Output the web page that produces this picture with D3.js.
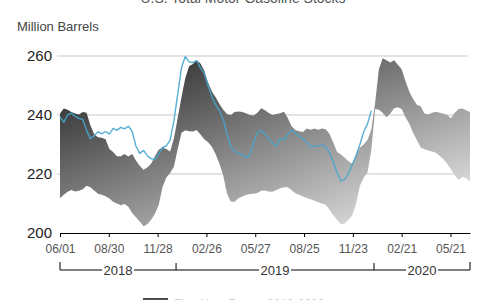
<!DOCTYPE html>
<html><head><meta charset="utf-8">
<script src="https://cdn.jsdelivr.net/npm/d3@7"></script>
<style>body{margin:0;background:#fff}svg{display:block}</style>
</head><body><svg id="c" width="500" height="300"></svg>
<script>
const title = "U.S. Total Motor Gasoline Stocks";
const unitLabel = "Million Barrels";
const startDate = "2018-06-01";
const endDate = "2020-06-26";
// five-year range, weekly from 2018-06-01
const upper = [240.5,242.2,241.8,241,240.5,240.2,241,240.8,236.5,233.5,232.5,232.3,231.8,228.5,227.5,226,226,226.8,225.9,226.8,
  224.6,222.8,221.4,222.2,223.5,226,228.2,229,228.5,227.6,232,239,246,252.5,256.5,257.3,258.6,257.5,255,251,
  248,246,243.7,241.8,240.3,240,241,241.2,241,240.6,240,239.8,240.8,242.3,241.6,240.7,240,240.3,240.6,241.1,
  239,236.2,234.9,234.5,234.2,235.4,235,235.4,235,235.4,235.2,233.6,230.6,227.5,226.6,225.5,224.3,223.5,226.5,229,
  230,231.5,235,244,255.5,259.2,258.6,257.8,258.6,257,255.5,251.5,248,245.4,243.5,243,240.5,240.2,240.8,241.1,
  240.8,240.4,240,238.9,240.8,242,242.2,241.6,241];
const lower = [211.8,213,214,214.6,214.1,214.3,214.8,216,215.5,214.4,213.3,213,212.5,211.7,210.6,210,209.4,209.8,208.9,206.8,
  205.3,203.9,202.3,203,204.5,206.5,209.5,215.5,218.8,220.3,222.5,228.5,234,234.8,234.5,234.4,234.9,233.4,231.8,230.8,
  229.2,226.7,223.5,219.5,213.3,210.6,210.6,211.8,212.4,212.9,213.2,213.3,213.6,214.3,214.4,214.1,214,214.6,215.2,215.5,
  215.5,214.5,213.5,213,212.4,211.9,211.4,210.9,210.4,210,209.6,207.8,206,204.4,203,203.2,204.5,206,210,216,
  218.7,220.5,228,242,241.8,240.8,239.2,240.5,242.3,242.6,242,239.3,237,234,231.5,229,228.4,228,227.6,227.2,
  226.2,225,223.5,221.5,219.6,218,219,218.6,217.4];
// weekly stocks, 2018-06-01 onward
const stocks = [239.4,237.5,240,240.6,239.5,238.8,238.5,234.8,232,233,234.3,233.6,234.4,233.5,235.5,234.8,235.8,235.3,236.2,234.5,
  229.5,227,228,226.2,225.2,224.8,226.8,229,229.5,231.5,238,247,256,259.8,258,257.8,258.4,256,254,250,
  246.2,243.5,241.5,238.5,233.5,229.2,227.7,227,226.6,225.5,226.5,230.8,234,234.8,233.5,232,230.4,229.5,232,231.5,
  233.5,234.8,233.9,232.8,232,230.8,229.3,229.3,229.6,229.8,229.2,227.2,224,220.4,217.6,218.2,220.2,223.2,226.3,230,
  234.3,237,241.5];
const yTicks = [200,220,240,260];
const gridTicks = [220,240,260];
const xTickDates = ["2018-06-01","2018-08-30","2018-11-28","2019-02-26","2019-05-27","2019-08-25","2019-11-23","2020-02-21","2020-05-21"];
const xTickLabels = ["06/01","08/30","11/28","02/26","05/27","08/25","11/23","02/21","05/21"];
const years = ["2018","2019","2020"];
const yearBounds = ["2018-06-01","2019-01-01","2020-01-01","2020-06-26"];
const legendLabel = "Five-Year Range   2018-2020";

const svg = d3.select("#c");
const P = d3.utcParse("%Y-%m-%d");
const x = d3.scaleUtc().domain([P(startDate), P(endDate)]).range([60,470]);
const y = d3.scaleLinear().domain([200,260]).range([233,56]);
const wk = i => d3.utcDay.offset(P(startDate), 7*i);

const defs = svg.append("defs");
const g = defs.append("linearGradient").attr("id","band").attr("gradientUnits","userSpaceOnUse")
  .attr("x1",60).attr("y1",95).attr("x2",150).attr("y2",330);
g.append("stop").attr("offset",0).attr("stop-color","#333");
g.append("stop").attr("offset",1).attr("stop-color","#e8e8e8");
const lg = defs.append("linearGradient").attr("id","leg").attr("x1",0).attr("x2",0).attr("y1",0).attr("y2",1);
lg.append("stop").attr("offset",0).attr("stop-color","#444");
lg.append("stop").attr("offset",1).attr("stop-color","#aaa");

// title
svg.append("text").attr("x",243).attr("y",3).attr("text-anchor","middle")
  .attr("font-family","Liberation Sans, Arial, sans-serif").attr("font-size",14).attr("fill","#555").text(title);
svg.append("text").attr("x",17).attr("y",31)
  .attr("font-family","Liberation Sans, Arial, sans-serif").attr("font-size",13).attr("fill","#444").text(unitLabel);

// grid
svg.append("g").selectAll("line").data(gridTicks).join("line")
  .attr("x1",57).attr("x2",468).attr("y1",d=>y(d)).attr("y2",d=>y(d))
  .attr("stroke","#c8c8c8").attr("stroke-width",1.2);

// y labels
svg.append("g").selectAll("text").data(yTicks).join("text")
  .attr("x",52).attr("y",d=>y(d)).attr("dy","0.36em").attr("text-anchor","end")
  .attr("font-family","Liberation Sans, Arial, sans-serif").attr("font-size",15).attr("fill","#222").text(d=>d);

// band
const area = d3.area().x((d,i)=>x(wk(i))).y0((d,i)=>y(lower[i])).y1(d=>y(d)).curve(d3.curveLinear);
svg.append("path").datum(upper).attr("d",area).attr("fill","url(#band)");

// stocks line
const line = d3.line().x((d,i)=>x(wk(i))).y(d=>y(d));
svg.append("path").datum(stocks).attr("d",line).attr("fill","none")
  .attr("stroke","#45a6cf").attr("stroke-width",1.4).attr("stroke-opacity",0.9).attr("stroke-linejoin","round");

// x axis
const ax = d3.axisBottom(x).tickValues(xTickDates.map(P)).tickFormat((d,i)=>xTickLabels[i])
  .tickSize(4).tickSizeOuter(0).tickPadding(7.5);
const axg = svg.append("g").attr("transform","translate(0,233)").call(ax);
axg.select(".domain").attr("stroke","#000");
axg.selectAll(".tick line").attr("stroke","#000");
axg.selectAll("text").attr("font-family","Liberation Sans, Arial, sans-serif").attr("font-size",12).attr("fill","#555");

// year brackets
const yb = yearBounds.map(P);
const br = svg.append("g");
br.append("line").attr("x1",x(yb[0])).attr("x2",x(yb[3])).attr("y1",270).attr("y2",270).attr("stroke","#000");
br.selectAll("line.t").data(yb).join("line").attr("class","t")
  .attr("x1",d=>x(d)).attr("x2",d=>x(d)).attr("y1",(d,i)=>(i===0||i===3)?262:263).attr("y2",270).attr("stroke","#000");
years.forEach((yr,i)=>{
  const cx = (x(yb[i])+x(yb[i+1]))/2;
  br.append("rect").attr("x",cx-16).attr("y",264).attr("width",32).attr("height",12).attr("fill","#fff");
  br.append("text").attr("x",cx).attr("y",270).attr("dy","0.36em").attr("text-anchor","middle")
    .attr("font-family","Liberation Sans, Arial, sans-serif").attr("font-size",13).attr("fill","#333").text(yr);
});

// legend (mostly cut off)
svg.append("rect").attr("x",143).attr("y",298).attr("width",25).attr("height",10).attr("fill","url(#leg)");
svg.append("text").attr("x",174).attr("y",308).attr("font-family","Liberation Sans, Arial, sans-serif")
  .attr("font-size",12).attr("fill","#ccc").text(legendLabel);
</script></body></html>
